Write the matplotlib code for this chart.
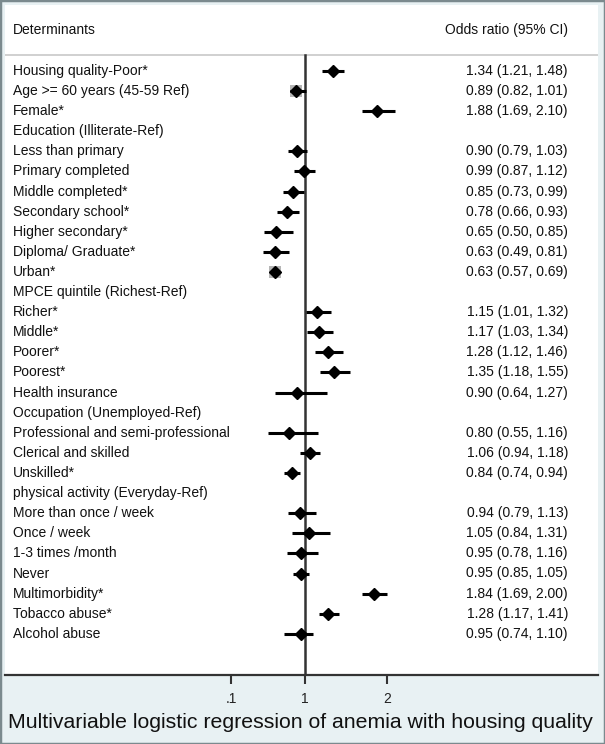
import matplotlib.pyplot as plt
import matplotlib.transforms as mtransforms
from matplotlib.patches import Rectangle
import numpy as np

plt.rcParams['font.family'] = ['Liberation Sans', 'DejaVu Sans']

# rows of the forest plot (None = group header without estimate)
labels = [
    "Housing quality-Poor*", "Age >= 60 years (45-59 Ref)", "Female*",
    "Education (Illiterate-Ref)", "Less than primary", "Primary completed",
    "Middle completed*", "Secondary school*", "Higher secondary*",
    "Diploma/ Graduate*", "Urban*", "MPCE quintile (Richest-Ref)",
    "Richer*", "Middle*", "Poorer*", "Poorest*", "Health insurance",
    "Occupation (Unemployed-Ref)", "Professional and semi-professional",
    "Clerical and skilled", "Unskilled*", "physical activity (Everyday-Ref)",
    "More than once / week", "Once / week", "1-3 times /month", "Never",
    "Multimorbidity*", "Tobacco abuse*", "Alcohol abuse",
]
odds = [1.34, 0.89, 1.88, None, 0.90, 0.99, 0.85, 0.78, 0.65, 0.63, 0.63, None,
        1.15, 1.17, 1.28, 1.35, 0.90, None, 0.80, 1.06, 0.84, None,
        0.94, 1.05, 0.95, 0.95, 1.84, 1.28, 0.95]
lower = [1.21, 0.82, 1.69, None, 0.79, 0.87, 0.73, 0.66, 0.50, 0.49, 0.57, None,
         1.01, 1.03, 1.12, 1.18, 0.64, None, 0.55, 0.94, 0.74, None,
         0.79, 0.84, 0.78, 0.85, 1.69, 1.17, 0.74]
upper = [1.48, 1.01, 2.10, None, 1.03, 1.12, 0.99, 0.93, 0.85, 0.81, 0.69, None,
         1.32, 1.34, 1.46, 1.55, 1.27, None, 1.16, 1.18, 0.94, None,
         1.13, 1.31, 1.16, 1.05, 2.00, 1.41, 1.10]
# rows whose study weight box is large enough to be visible
heavy_rows = ["Age >= 60 years (45-59 Ref)", "Urban*"]

xticks = [0.1, 1, 2]
xticklabels = [".1", "1", "2"]
title = "Multivariable logistic regression of anemia with housing quality"

W, H = 605, 744
fig = plt.figure(figsize=(W / 100, H / 100), dpi=100, facecolor='#e8f1f3')
fig.patches.append(Rectangle((0, 0), 1, 1, transform=fig.transFigure,
                             fill=False, edgecolor='#7b8a8e', linewidth=2.5))

px_left, px_right, px_top, px_bottom = 5, 598, 5, 675
ax = fig.add_axes([px_left / W, (H - px_bottom) / H,
                   (px_right - px_left) / W, (px_bottom - px_top) / H])
ax.set_facecolor('white')

# x: linear, 82 px per unit with 1 at pixel 305
ppu = 82.0
ax.set_xlim(1 + (px_left - 305) / ppu, 1 + (px_right - 305) / ppu)
row0, step = 71.0, 20.1
ax.set_ylim((px_bottom - row0) / step, (px_top - row0) / step)

sep = (55 - row0) / step
ax.axhline(sep, color='#c8c8c8', linewidth=1.2)
ax.plot([1, 1], [sep, ax.get_ylim()[0]], color='#333333', linewidth=1.8, zorder=2)

for i, lab in enumerate(labels):
    if odds[i] is None:
        continue
    if lab in heavy_rows:
        ax.plot(odds[i], i, marker='s', markersize=9, color='#b5b5b5',
                markeredgewidth=0, zorder=3)
    ax.plot([lower[i], upper[i]], [i, i], color='black', linewidth=2.2,
            solid_capstyle='butt', zorder=4)
    ax.plot(odds[i], i, marker='D', markersize=6.5, color='black', zorder=5)

trans = mtransforms.blended_transform_factory(ax.transAxes, ax.transData)
lx = (13 - px_left) / (px_right - px_left)
rx = (568 - px_left) / (px_right - px_left)
hy = (30 - row0) / step
ax.text(lx, hy, "Determinants", transform=trans, ha='left', va='center',
        fontsize=10, color='#111111')
ax.text(rx, hy, "Odds ratio (95% CI)", transform=trans, ha='right', va='center',
        fontsize=10, color='#111111')
for i, lab in enumerate(labels):
    ax.text(lx, i, lab, transform=trans, ha='left', va='center',
            fontsize=10, color='#111111')
    if odds[i] is not None:
        ax.text(rx, i, f"{odds[i]:.2f} ({lower[i]:.2f}, {upper[i]:.2f})",
                transform=trans, ha='right', va='center', fontsize=10,
                color='#111111')

for s in ['top', 'left', 'right']:
    ax.spines[s].set_visible(False)
ax.spines['bottom'].set_color('#333333')
ax.spines['bottom'].set_linewidth(1.6)
ax.set_yticks([])
ax.set_xticks(xticks)
ax.set_xticklabels(xticklabels, fontsize=10, color='#222222')
ax.tick_params(axis='x', direction='out', length=6.5, width=1.5,
               color='#333333', pad=6)

fig.text(8 / W, (H - 722) / H, title, ha='left', va='center',
         fontsize=15.3, color='#111111')

fig.savefig('out.png', dpi=100, facecolor=fig.get_facecolor())
